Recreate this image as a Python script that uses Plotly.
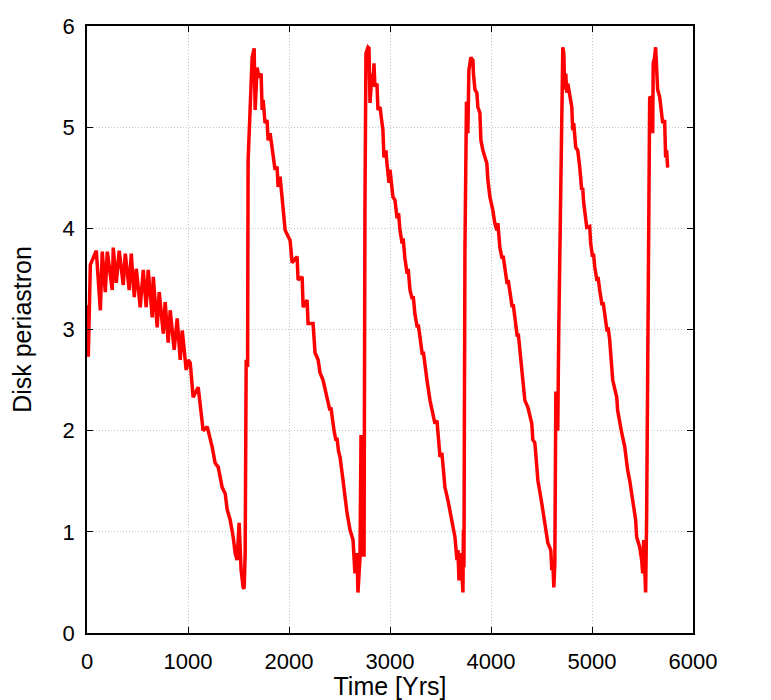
import plotly.graph_objects as go

# readings of the curve, one pair of lists per "cycle" of the orbit
years_1 = [0, 13, 33, 92, 132, 151, 181, 201, 250, 260, 290, 319, 359, 379, 418, 438,
           468, 488, 527, 557, 586, 606, 646, 656, 695, 715, 755, 774, 804, 824, 863,
           893, 923, 943, 982, 1002, 1022, 1051, 1101, 1150, 1190, 1239, 1269, 1299,
           1338, 1368, 1388, 1417, 1447, 1467, 1486, 1506, 1526, 1546, 1556, 1566]
peri_1 = [3.24, 2.73, 3.64, 3.78, 3.19, 3.77, 3.37, 3.77, 3.39, 3.81, 3.46, 3.78, 3.44,
          3.75, 3.39, 3.75, 3.32, 3.60, 3.22, 3.59, 3.22, 3.59, 3.12, 3.52, 3.02, 3.37,
          2.96, 3.27, 2.87, 3.19, 2.80, 3.11, 2.70, 2.99, 2.60, 2.70, 2.67, 2.33, 2.43,
          2.00, 2.04, 1.84, 1.68, 1.64, 1.44, 1.38, 1.22, 1.12, 0.95, 0.79, 0.72, 1.09,
          0.62, 0.45, 0.44, 0.79]

years_2 = [1576, 1590, 1595, 1615, 1635, 1655, 1665, 1684, 1704, 1724, 1734, 1744, 1763,
           1783, 1793, 1813, 1833, 1843, 1862, 1882, 1892, 1912, 1932, 1942, 1962, 2011,
           2031, 2080, 2090, 2130, 2140, 2179, 2189, 2238, 2258, 2288, 2308, 2337, 2387,
           2405, 2415, 2430, 2446, 2465, 2475, 2490, 2505, 2535, 2574, 2604, 2634, 2653,
           2673, 2683, 2703, 2713, 2723, 2733, 2743]
peri_2 = [2.70, 2.63, 4.67, 5.30, 5.69, 5.78, 5.17, 5.59, 5.49, 5.53, 5.17, 5.27, 5.04,
          5.07, 4.87, 4.94, 4.77, 4.71, 4.58, 4.61, 4.41, 4.51, 4.28, 4.15, 3.98, 3.88,
          3.66, 3.72, 3.49, 3.52, 3.22, 3.29, 3.06, 3.06, 2.77, 2.70, 2.57, 2.50, 2.30,
          2.20, 2.23, 2.08, 2.00, 1.90, 1.93, 1.80, 1.74, 1.51, 1.19, 1.02, 0.92, 0.59,
          0.79, 0.40, 0.75, 1.94, 1.94, 0.77, 0.77]

years_3 = [2752, 2757, 2762, 2782, 2792, 2802, 2822, 2832, 2841, 2851, 2871, 2881, 2901,
           2921, 2930, 2940, 2960, 2970, 2990, 3000, 3019, 3029, 3049, 3070, 3085, 3099,
           3120, 3130, 3148, 3170, 3180, 3198, 3220, 3230, 3247, 3270, 3280, 3297, 3320,
           3330, 3350, 3366, 3396, 3425, 3445, 3465, 3495, 3514, 3544, 3574, 3613, 3643,
           3663, 3673, 3683, 3702, 3722, 3727, 3732]
peri_3 = [4.21, 5.27, 5.73, 5.79, 5.78, 5.24, 5.53, 5.40, 5.63, 5.40, 5.43, 5.17, 5.20,
          5.04, 4.97, 4.70, 4.77, 4.64, 4.45, 4.58, 4.38, 4.31, 4.28, 4.10, 4.15, 3.98,
          3.85, 3.90, 3.70, 3.55, 3.60, 3.39, 3.30, 3.33, 3.15, 3.02, 3.05, 2.90, 2.75,
          2.78, 2.60, 2.50, 2.30, 2.17, 2.07, 2.10, 1.74, 1.78, 1.44, 1.31, 1.09, 0.95,
          0.72, 0.82, 0.52, 0.79, 0.40, 1.02, 0.65]

years_4 = [3742, 3752, 3757, 3771, 3781, 3801, 3821, 3826, 3841, 3860, 3870, 3890, 3900,
           3920, 3939, 3959, 3969, 3989, 4018, 4038, 4058, 4068, 4088, 4110, 4120, 4137,
           4160, 4170, 4187, 4210, 4220, 4236, 4260, 4270, 4286, 4300, 4315, 4335, 4365,
           4404, 4414, 4434, 4454, 4464, 4503, 4533, 4563, 4592, 4602, 4612, 4622, 4632,
           4642, 4652, 4661]
peri_4 = [3.78, 4.74, 5.25, 4.94, 5.56, 5.69, 5.66, 5.53, 5.37, 5.34, 5.20, 5.14, 4.87,
          4.77, 4.70, 4.64, 4.48, 4.31, 4.18, 4.05, 3.98, 4.05, 3.81, 3.70, 3.73, 3.60,
          3.45, 3.49, 3.39, 3.22, 3.25, 3.10, 2.93, 2.96, 2.80, 2.62, 2.50, 2.30, 2.23,
          2.07, 1.91, 1.88, 1.64, 1.51, 1.28, 1.09, 0.89, 0.82, 0.62, 0.72, 0.45, 0.69,
          2.37, 2.37, 2.00]

years_5 = [4671, 4681, 4691, 4701, 4711, 4721, 4730, 4740, 4750, 4760, 4780, 4800, 4809,
           4819, 4839, 4859, 4879, 4898, 4908, 4918, 4948, 4977, 4987, 5005, 5015, 5027,
           5050, 5060, 5076, 5100, 5110, 5126, 5150, 5160, 5175, 5190, 5205, 5245, 5254,
           5294, 5324, 5353, 5373, 5403, 5432, 5442, 5472, 5492, 5502, 5512, 5521, 5531,
           5541]
peri_5 = [3.00, 3.78, 4.70, 5.53, 5.79, 5.73, 5.37, 5.53, 5.34, 5.43, 5.30, 5.20, 4.97,
          5.04, 4.80, 4.77, 4.60, 4.38, 4.40, 4.25, 4.01, 4.02, 3.85, 3.72, 3.75, 3.62,
          3.48, 3.52, 3.39, 3.24, 3.27, 3.15, 2.98, 3.02, 2.90, 2.70, 2.50, 2.33, 2.20,
          1.98, 1.84, 1.61, 1.51, 1.31, 1.12, 0.95, 0.85, 0.72, 0.59, 0.92, 0.65, 0.40,
          1.15]

years_6 = [5551, 5571, 5591, 5601, 5606, 5620, 5630, 5640, 5650, 5670, 5690, 5700, 5719,
           5729, 5739, 5749]
peri_6 = [2.50, 5.30, 5.28, 4.94, 5.63, 5.69, 5.79, 5.56, 5.37, 5.30, 5.14, 5.04, 5.07,
          4.70, 4.77, 4.60]

x_ticks = [0, 1000, 2000, 3000, 4000, 5000, 6000]
y_ticks = [0, 1, 2, 3, 4, 5, 6]

years = years_1 + years_2 + years_3 + years_4 + years_5 + years_6
peri = peri_1 + peri_2 + peri_3 + peri_4 + peri_5 + peri_6

fig = go.Figure()
fig.add_trace(go.Scatter(x=years, y=peri, mode='lines',
                         line=dict(color='#ff0000', width=3.5), showlegend=False))

axis_style = dict(showline=True, linewidth=1.5, linecolor='black', mirror='ticks',
                  ticks='inside', ticklen=6, tickwidth=1, tickcolor='black',
                  showgrid=True, gridcolor='#c4c4c4', griddash='1px,2px', gridwidth=1,
                  zeroline=False, tickfont=dict(size=22, color='black'),
                  automargin=False)

# the page body has an 8px margin, so the figure is a bit smaller than the window
fig.update_layout(width=763, height=692, plot_bgcolor='white', paper_bgcolor='white',
                  font=dict(family='Liberation Sans, Arial, sans-serif', size=21, color='black'),
                  margin=dict(l=79, r=78, t=18, b=67))
fig.update_xaxes(range=[0, 6000], tickvals=x_ticks, ticklabelstandoff=8,
                 title=dict(text='Time [Yrs]', standoff=4), **axis_style)
fig.update_yaxes(range=[0, 6], tickvals=y_ticks, ticklabelstandoff=6,
                 title=dict(text='Disk periastron', standoff=25), **axis_style)

fig.write_html("out.html")
